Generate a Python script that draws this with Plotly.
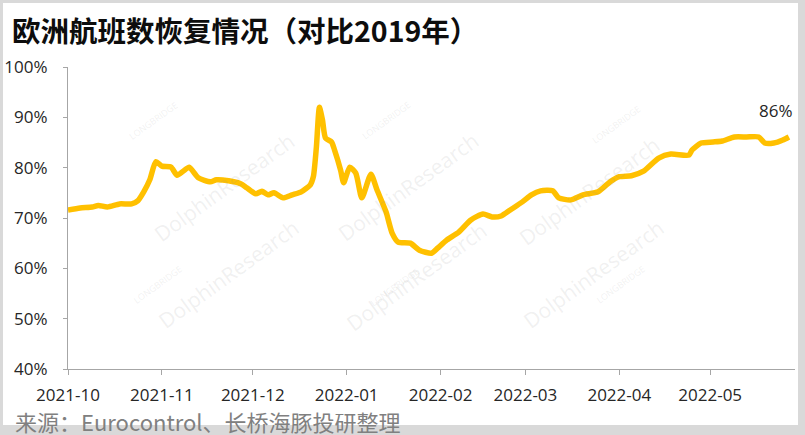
import plotly.graph_objects as go

# 欧洲航班数 vs 2019 (%)
dates = [
    "2021-10-01", "2021-10-05", "2021-10-09", "2021-10-11", "2021-10-14", "2021-10-18",
    "2021-10-22", "2021-10-24", "2021-10-26", "2021-10-28", "2021-10-30", "2021-11-01",
    "2021-11-04", "2021-11-06", "2021-11-08", "2021-11-10", "2021-11-13", "2021-11-17",
    "2021-11-19", "2021-11-23", "2021-11-27", "2021-11-29", "2021-12-02", "2021-12-04",
    "2021-12-06", "2021-12-08", "2021-12-11", "2021-12-14", "2021-12-17", "2021-12-20",
    "2021-12-21", "2021-12-22", "2021-12-23", "2021-12-24", "2021-12-25", "2021-12-27",
    "2021-12-28", "2021-12-30", "2021-12-31", "2022-01-02", "2022-01-04", "2022-01-06",
    "2022-01-09", "2022-01-11", "2022-01-14", "2022-01-16", "2022-01-18", "2022-01-22",
    "2022-01-25", "2022-01-29", "2022-01-31", "2022-02-03", "2022-02-07", "2022-02-11",
    "2022-02-15", "2022-02-18", "2022-02-21", "2022-02-24", "2022-02-28", "2022-03-03",
    "2022-03-06", "2022-03-10", "2022-03-12", "2022-03-16", "2022-03-20", "2022-03-25",
    "2022-03-29", "2022-04-01", "2022-04-05", "2022-04-09", "2022-04-14", "2022-04-18",
    "2022-04-24", "2022-04-25", "2022-04-28", "2022-05-02", "2022-05-05", "2022-05-09",
    "2022-05-13", "2022-05-17", "2022-05-19", "2022-05-22", "2022-05-25", "2022-05-27",
]
values = [
    71.6, 72.0, 72.2, 72.5, 72.2, 72.8,
    72.8, 73.4, 75.2, 77.6, 81.2, 80.3,
    80.1, 78.5, 79.3, 80.1, 78.0, 77.2,
    77.6, 77.4, 76.8, 76.0, 74.8, 75.3,
    74.6, 75.0, 74.0, 74.6, 75.2, 76.6,
    78.2, 84.1, 92.0, 89.5, 85.9, 85.1,
    83.5, 79.5, 77.0, 80.1, 78.9, 74.0,
    78.7, 75.6, 71.2, 67.0, 65.2, 65.0,
    63.6, 63.0, 64.0, 65.6, 67.2, 69.6,
    70.8, 70.2, 70.4, 71.6, 73.2, 74.6,
    75.4, 75.4, 74.0, 73.6, 74.6, 75.2,
    77.2, 78.2, 78.4, 79.3, 81.9, 82.7,
    82.5, 83.5, 84.9, 85.1, 85.3, 86.1,
    86.1, 86.1, 84.9, 84.9, 85.5, 86.1,
]

W, H = 805, 435
L, R, T, B = 68, 10, 67, 66
PW, PH = W - L - R, H - T - B
C_LINE = "#FFC000"; C_AX = "#a6a6a6"; C_TXT = "#262626"; C_FRAME = "#d9d9d9"
FONT = "Open Sans, Noto Sans CJK SC"

def px(x): return (x - L) / PW
def py(y): return (H - B - y) / PH

fig = go.Figure()
fig.add_trace(go.Scatter(x=dates, y=values, mode="lines",
                         line=dict(color=C_LINE, width=5.5, shape="spline", smoothing=0.6),
                         showlegend=False, hoverinfo="x+y"))

# watermarks
wm = [(146, 124), (408, 124), (668, 128), (150, 337), (416, 340), (672, 337)]
for cx, cy in wm:
    fig.add_annotation(x=px(cx), y=py(cy), xref="paper", yref="paper", text="DolphinResearch",
                       textangle=-36, showarrow=False, font=dict(family=FONT, size=21, color="rgba(150,150,150,0.14)"))
    fig.add_annotation(x=px(cx - 22), y=py(cy - 28), xref="paper", yref="paper", text="LONGBRIDGE",
                       textangle=-36, showarrow=False, font=dict(family=FONT, size=9, color="rgba(150,150,150,0.14)"))

# last value label
fig.add_annotation(x=dates[-1], y=values[-1], text=f"{values[-1]:.0f}%", showarrow=False,
                   xshift=-13, yshift=26, font=dict(family=FONT, size=17, color=C_TXT))

# title and source
fig.add_annotation(x=px(10), y=py(30), xref="paper", yref="paper", xanchor="left", yanchor="middle",
                   text="<b>欧洲航班数恢复情况（对比2019年）</b>", showarrow=False,
                   font=dict(family="Noto Sans CJK SC", size=28.5, color="#0d0d0d"))
fig.add_annotation(x=px(13), y=py(421), xref="paper", yref="paper", xanchor="left", yanchor="middle",
                   text="来源：Eurocontrol、长桥海豚投研整理", showarrow=False,
                   font=dict(family="Noto Sans CJK SC", size=22, color="#808080"))

# grey frame around the picture
for x0, y0, x1, y1 in [(0, 0, 3, H), (798, 0, W, H), (0, 0, W, 3), (0, 425, W, H)]:
    fig.add_shape(type="rect", xref="paper", yref="paper", x0=px(x0), x1=px(x1), y0=py(y0), y1=py(y1),
                  fillcolor=C_FRAME, line_width=0, layer="above")

fig.update_xaxes(type="date", range=["2021-10-01", "2022-05-29"], dtick="M1", tick0="2021-10-01",
                 tickformat="%Y-%m", showgrid=False, showline=True, linecolor=C_AX, linewidth=1.3,
                 ticks="outside", ticklen=5, tickcolor=C_AX, ticklabelstandoff=5, automargin=False,
                 tickfont=dict(family=FONT, size=17, color=C_TXT), zeroline=False)
fig.update_yaxes(range=[40, 100], dtick=10, ticksuffix="%", showgrid=False, showline=True,
                 linecolor=C_AX, linewidth=1.3, ticks="outside", ticklen=4, tickcolor=C_AX, automargin=False,
                 ticklabelstandoff=12, tickfont=dict(family=FONT, size=17, color=C_TXT), zeroline=False)
fig.update_layout(width=W, height=H, margin=dict(l=L, r=R, t=T, b=B),
                  paper_bgcolor="white", plot_bgcolor="white", showlegend=False)

# page body has a default 8px margin; drop it so the figure sits at the window's corner
fig.write_html("out.html", config={"displayModeBar": False},
               post_script="document.body.style.margin='0';")
